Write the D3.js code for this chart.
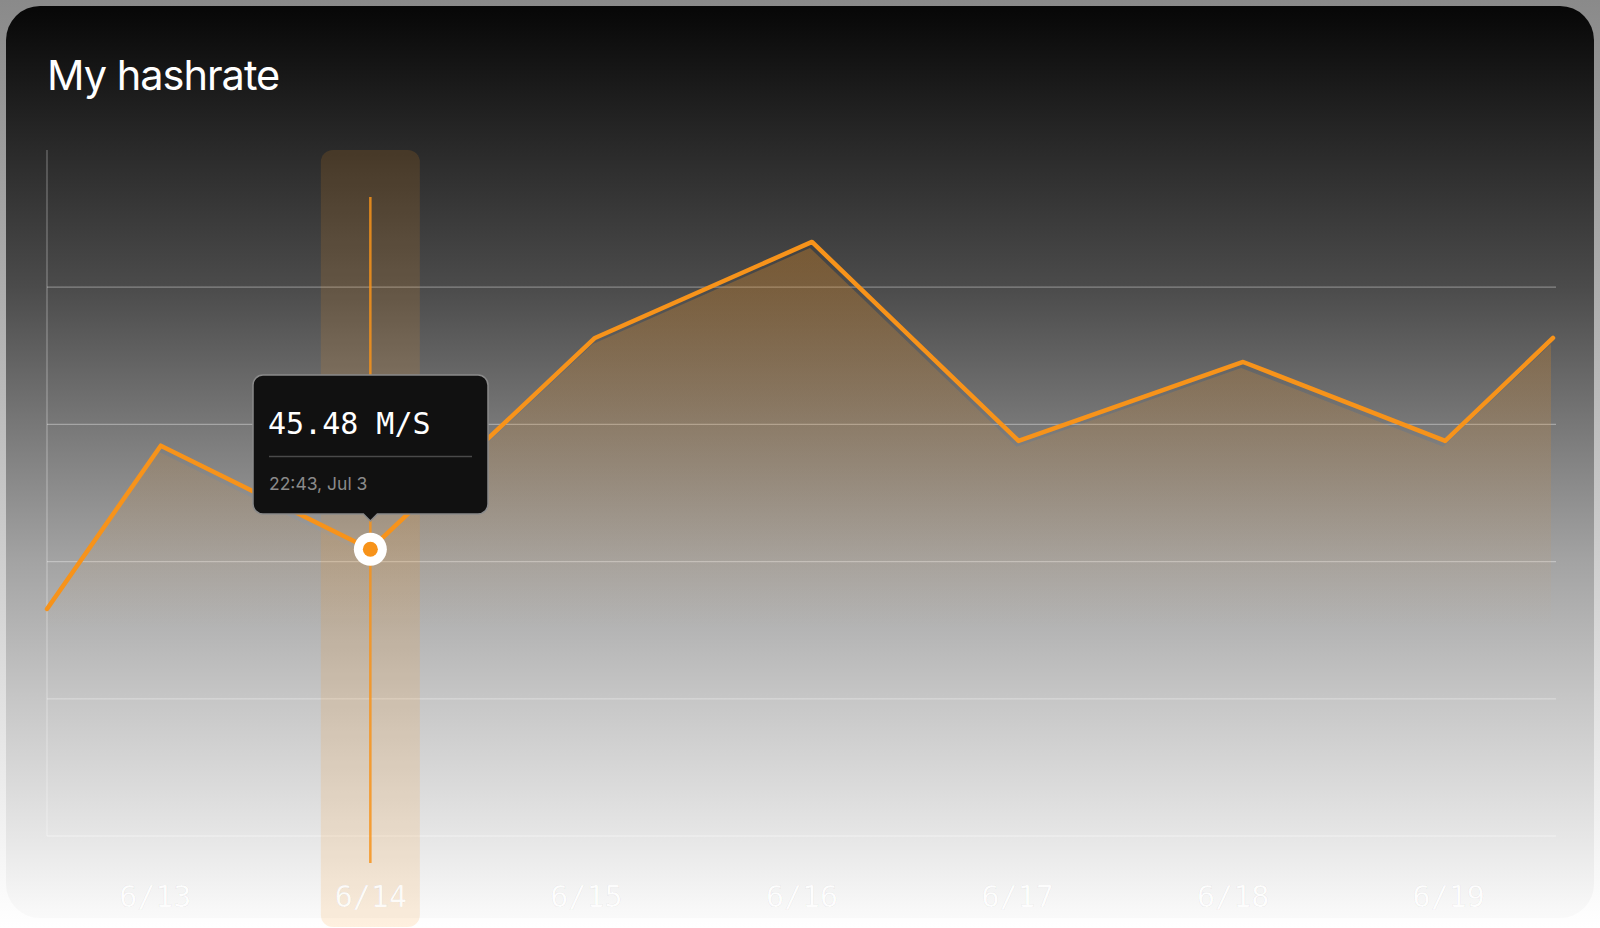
<!DOCTYPE html>
<html>
<head>
<meta charset="utf-8">
<script src="https://cdn.jsdelivr.net/npm/d3@7"></script>
<style>
  html, body { margin: 0; padding: 0; background: #fff; }
  svg { display: block; }
</style>
</head>
<body>
<svg id="chart" width="1600" height="928"></svg>
<script>
// ---- data ----
const times = ["2024-06-12T12:00","2024-06-13T00:40","2024-06-14T00:00","2024-06-15T01:00","2024-06-16T01:10","2024-06-17T00:10","2024-06-18T01:10","2024-06-18T23:40","2024-06-19T11:40"];
const hashrate = [33.1, 56.9, 41.8, 72.6, 86.6, 57.6, 69.1, 57.6, 72.6];
const tickDates = ["2024-06-13","2024-06-14","2024-06-15","2024-06-16","2024-06-17","2024-06-18","2024-06-19"];
const gridValues = [0, 20, 40, 60, 80];
const titleText = "My hashrate";
const highlightIndex = 2;
const tooltipValue = "45.48 M/S";
const tooltipTime = "22:43, Jul 3";

(function () {
const parse = d3.timeParse("%Y-%m-%dT%H:%M");
const parseDay = d3.timeParse("%Y-%m-%d");
const data = times.map((t, i) => ({ t: parse(t), v: hashrate[i] }));
const ticks = tickDates.map(parseDay);

const W = 1600, H = 928;
const pL = 47, pR = 1556, pT = 150, pB = 836;
const orange = "#F7931A";

const svg = d3.select("#chart");
const defs = svg.append("defs");

// page gradient
const pg = defs.append("linearGradient").attr("id", "pageGrad").attr("x1", 0).attr("y1", 0).attr("x2", 0).attr("y2", 1);
pg.append("stop").attr("offset", "0%").attr("stop-color", "#8a8a8a");
pg.append("stop").attr("offset", "55%").attr("stop-color", "#c8c8c8");
pg.append("stop").attr("offset", "100%").attr("stop-color", "#ffffff");

// card gradient
const cg = defs.append("linearGradient").attr("id", "cardGrad").attr("gradientUnits", "userSpaceOnUse")
  .attr("x1", 0).attr("y1", 0).attr("x2", 0).attr("y2", H);
[[0, "#060606"], [20, "#0a0a0a"], [150, "#2a2a2a"], [287, "#4b4b4b"], [423, "#777777"], [561, "#a3a3a3"], [698, "#c6c6c6"], [836, "#e6e6e6"], [910, "#f8f8f8"], [928, "#fbfbfb"]]
  .forEach(([yy, c]) => cg.append("stop").attr("offset", (yy / H * 100) + "%").attr("stop-color", c));

// area gradient
const ag = defs.append("linearGradient").attr("id", "areaGrad").attr("gradientUnits", "userSpaceOnUse")
  .attr("x1", 0).attr("y1", 230).attr("x2", 0).attr("y2", pB);
ag.append("stop").attr("offset", "0%").attr("stop-color", orange).attr("stop-opacity", 0.31);
ag.append("stop").attr("offset", "40%").attr("stop-color", orange).attr("stop-opacity", 0.12);
ag.append("stop").attr("offset", "65%").attr("stop-color", orange).attr("stop-opacity", 0.0);

svg.append("rect").attr("width", W).attr("height", H).attr("fill", "url(#pageGrad)");
svg.append("rect").attr("x", 6).attr("y", 6).attr("width", W - 12).attr("height", H - 16)
  .attr("rx", 34).attr("fill", "url(#cardGrad)");

// title
svg.append("text").attr("x", 47).attr("y", 90).text(titleText)
  .attr("font-family", "Inter, 'Noto Sans', sans-serif").attr("font-size", 41.5)
  .attr("fill", "#ffffff").attr("letter-spacing", "-1");

// scales
const x = d3.scaleTime().domain([parse("2024-06-12T12:00"), parse("2024-06-19T12:00")]).range([pL, pR]);
const y = d3.scaleLinear().domain([0, 100]).range([pB, pT]);

// gridlines
svg.append("g").selectAll("line").data(gridValues).join("line")
  .attr("x1", pL).attr("x2", pR)
  .attr("y1", d => y(d)).attr("y2", d => y(d))
  .attr("stroke", "rgba(255,255,255,0.34)").attr("stroke-width", 1.3);
svg.append("line").attr("x1", pL).attr("x2", pL).attr("y1", y(100)).attr("y2", y(0))
  .attr("stroke", "rgba(255,255,255,0.3)").attr("stroke-width", 1.3);

// highlight band
const hx = x(data[highlightIndex].t);
const bandW = 99;
svg.append("rect").attr("x", hx - bandW / 2).attr("y", pT).attr("width", bandW).attr("height", H - pT - 1)
  .attr("rx", 12).attr("fill", orange).attr("fill-opacity", 0.14);

// area
const area = d3.area().x(d => x(d.t)).y0(pB).y1(d => y(d.v));
svg.append("path").datum(data).attr("d", area).attr("transform", "translate(-2,6)")
  .attr("fill", "url(#areaGrad)");

// vertical guide
svg.append("line").attr("x1", hx).attr("x2", hx).attr("y1", 197).attr("y2", 863)
  .attr("stroke", orange).attr("stroke-opacity", 0.85).attr("stroke-width", 2.5);

// line
const line = d3.line().x(d => x(d.t)).y(d => y(d.v));
svg.append("path").datum(data).attr("d", line)
  .attr("fill", "none").attr("stroke", orange).attr("stroke-width", 4.5)
  .attr("stroke-linejoin", "round").attr("stroke-linecap", "round");

// marker
const hy = y(data[highlightIndex].v);
svg.append("circle").attr("cx", hx).attr("cy", hy).attr("r", 16.5).attr("fill", "#ffffff");
svg.append("circle").attr("cx", hx).attr("cy", hy).attr("r", 7.5).attr("fill", orange);

// tooltip
const tt = svg.append("g");
const tx0 = 253, tx1 = 488, ty0 = 375, ty1 = 514;
const r = 10;
const tp = d3.path();
tp.moveTo(tx0 + r, ty0);
tp.lineTo(tx1 - r, ty0); tp.arcTo(tx1, ty0, tx1, ty0 + r, r);
tp.lineTo(tx1, ty1 - r); tp.arcTo(tx1, ty1, tx1 - r, ty1, r);
tp.lineTo(hx + 7, ty1); tp.lineTo(hx, ty1 + 7); tp.lineTo(hx - 7, ty1);
tp.lineTo(tx0 + r, ty1); tp.arcTo(tx0, ty1, tx0, ty1 - r, r);
tp.lineTo(tx0, ty0 + r); tp.arcTo(tx0, ty0, tx0 + r, ty0, r);
tp.closePath();
tt.append("path").attr("d", tp.toString()).attr("fill", "#111111")
  .attr("stroke", "#8a8a8a").attr("stroke-width", 1.5);
tt.append("text").attr("x", 268).attr("y", 434).text(tooltipValue)
  .attr("font-family", "'DejaVu Sans Mono', monospace").attr("font-size", 30).attr("fill", "#ffffff");
tt.append("line").attr("x1", 269).attr("x2", 472).attr("y1", 456.5).attr("y2", 456.5)
  .attr("stroke", "#4a4a4a").attr("stroke-width", 1.5);
tt.append("text").attr("x", 269).attr("y", 490).text(tooltipTime)
  .attr("font-family", "Inter, Roboto, sans-serif").attr("font-size", 17.5).attr("fill", "#8a8a8a");

// x axis labels
const xAxis = d3.axisBottom(x).tickValues(ticks).tickSize(0).tickFormat(d3.timeFormat("%-m/%-d"));
const gx = svg.append("g").attr("transform", `translate(0,${pB})`).call(xAxis);
gx.select(".domain").remove();
gx.selectAll("text")
  .attr("y", 71).attr("dy", 0)
  .attr("font-family", "'DejaVu Sans Mono', monospace").attr("font-size", 30)
  .attr("fill", "#ffffff").attr("fill-opacity", 0.85)
  .attr("stroke", "rgba(0,0,0,0.05)").attr("stroke-width", 1);
})();
</script>
</body>
</html>
